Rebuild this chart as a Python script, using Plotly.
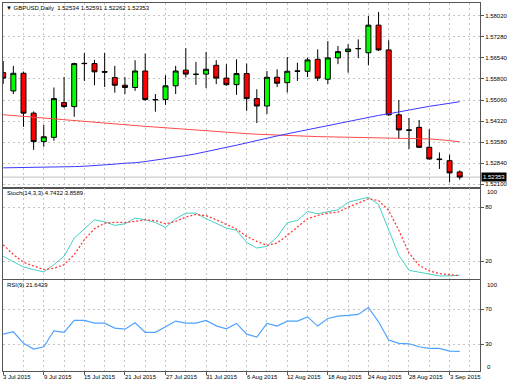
import plotly.graph_objects as go
import pandas as pd

# ---------------- data ----------------
dates = [f"{d.day} {d.strftime('%b %Y')}" for d in pd.bdate_range("2015-07-03", "2015-09-04")]

opens = [1.5602, 1.5538, 1.5600, 1.5460, 1.5360, 1.5375, 1.5497, 1.5483, 1.5635, 1.5634,
         1.5606, 1.5585, 1.5558, 1.5550, 1.5608, 1.5508, 1.5508, 1.5556, 1.5611, 1.5597,
         1.5597, 1.5628, 1.5583, 1.5560, 1.5599, 1.5511, 1.5485, 1.5586, 1.5567, 1.5607,
         1.5607, 1.5649, 1.5579, 1.5654, 1.5676, 1.5686, 1.5672, 1.5769, 1.5682, 1.5454,
         1.5401, 1.5410, 1.5340, 1.5299, 1.5293, 1.52534]
highs = [1.5643, 1.5626, 1.5606, 1.5466, 1.5419, 1.5550, 1.5587, 1.5637, 1.5672, 1.5647,
         1.5672, 1.5626, 1.5587, 1.5646, 1.5669, 1.5527, 1.5593, 1.5626, 1.5688, 1.5640,
         1.5675, 1.5646, 1.5632, 1.5649, 1.5634, 1.5544, 1.5608, 1.5614, 1.5657, 1.5637,
         1.5655, 1.5684, 1.5713, 1.5696, 1.5702, 1.5719, 1.5801, 1.5815, 1.5716, 1.5506,
         1.5443, 1.5436, 1.5404, 1.5322, 1.5314, 1.52591]
lows = [1.5563, 1.5527, 1.5412, 1.5331, 1.5342, 1.5363, 1.5478, 1.5447, 1.5573, 1.5558,
        1.5552, 1.5532, 1.5527, 1.5538, 1.5503, 1.5465, 1.5489, 1.5527, 1.5585, 1.5559,
        1.5548, 1.5562, 1.5556, 1.5524, 1.5468, 1.5425, 1.5457, 1.5552, 1.5532, 1.5573,
        1.5587, 1.5573, 1.5562, 1.5632, 1.5602, 1.5653, 1.5628, 1.5678, 1.5451, 1.5369,
        1.5334, 1.5338, 1.5297, 1.5264, 1.5217, 1.52262]
closes = [1.5583, 1.5600, 1.5460, 1.5360, 1.5377, 1.5511, 1.5483, 1.5634, 1.5634, 1.5605,
          1.5604, 1.5558, 1.5550, 1.5608, 1.5508, 1.5507, 1.5556, 1.5608, 1.5597, 1.5596,
          1.5614, 1.5583, 1.5560, 1.5599, 1.5511, 1.5485, 1.5586, 1.5565, 1.5607, 1.5608,
          1.5647, 1.5583, 1.5654, 1.5676, 1.5685, 1.5687, 1.5769, 1.5682, 1.5454, 1.5401,
          1.5400, 1.5340, 1.5299, 1.5297, 1.5250, 1.52353]

ma_red = [1.54545, 1.54514, 1.54482, 1.54451, 1.54419, 1.54388, 1.54356, 1.54325, 1.54297, 1.54269,
          1.54241, 1.54216, 1.54192, 1.54164, 1.54136, 1.54108, 1.54080, 1.54052, 1.54024, 1.53995,
          1.53971, 1.53946, 1.53922, 1.53901, 1.53880, 1.53859, 1.53841, 1.53824, 1.53810, 1.53796,
          1.53785, 1.53775, 1.53768, 1.53761, 1.53754, 1.53750, 1.53747, 1.53745, 1.53743, 1.53736,
          1.53726, 1.53712, 1.53694, 1.53670, 1.53635, 1.53593]
ma_blue = [1.52679, 1.52682, 1.52686, 1.52689, 1.52696, 1.52703, 1.52710, 1.52721, 1.52735, 1.52752,
           1.52777, 1.52808, 1.52843, 1.52857, 1.52899, 1.52945, 1.52994, 1.53050, 1.53109, 1.53172,
           1.53242, 1.53313, 1.53390, 1.53474, 1.53554, 1.53642, 1.53722, 1.53799, 1.53873, 1.53946,
           1.54020, 1.54090, 1.54160, 1.54237, 1.54314, 1.54395, 1.54461, 1.54521, 1.54577, 1.54647,
           1.54724, 1.54784, 1.54840, 1.54892, 1.54948, 1.55001]

stoch_k = [25.5, 20.0, 13.7, 10.8, 8.2, 16.3, 25.5, 45.8, 55.7, 66.0,
           63.8, 59.8, 61.6, 67.9, 66.0, 63.0, 57.6, 67.2, 73.4, 73.4,
           67.2, 61.6, 56.8, 54.3, 41.0, 34.7, 36.6, 46.9, 62.7, 65.3,
           75.2, 72.7, 75.2, 77.1, 85.5, 88.5, 91.0, 83.0, 54.3, 26.6,
           10.0, 8.2, 6.4, 3.8, 3.8, 4.7432]
stoch_d = [38.4, 27.4, 18.9, 14.5, 10.8, 12.3, 16.3, 27.4, 44.0, 56.1,
           62.3, 63.1, 63.1, 64.2, 66.0, 65.0, 61.6, 64.2, 69.0, 71.9,
           70.5, 66.0, 60.6, 55.7, 47.6, 42.1, 37.7, 40.2, 48.7, 57.9,
           67.2, 70.8, 73.4, 74.5, 80.0, 84.4, 89.3, 87.4, 76.4, 54.3,
           29.2, 15.6, 9.3, 6.4, 4.9, 3.8589]
rsi = [41.4, 44.1, 30.8, 24.3, 26.9, 45.2, 43.4, 57.1, 57.1, 54.0,
       54.0, 48.3, 47.1, 54.3, 43.4, 43.4, 49.8, 56.3, 54.0, 54.0,
       57.1, 50.9, 47.5, 53.6, 41.4, 38.0, 53.6, 50.6, 56.3, 56.3,
       61.2, 50.6, 59.3, 62.0, 62.8, 63.9, 71.9, 55.5, 34.6, 30.8,
       30.3, 26.9, 25.0, 25.0, 22.0, 21.6429]

price_ticks = [1.52100, 1.52840, 1.53580, 1.54320, 1.55060, 1.55800, 1.56540, 1.57280, 1.58020]
stoch_ticks = [20, 80]
rsi_ticks = [30, 70]

title_text = "▼ GBPUSD,Daily  1.52534 1.52591 1.52262 1.52353"
stoch_text = "Stoch(14,3,3) 4.7432 3.8589"
rsi_text = "RSI(9) 21.6429"

# ---------------- style ----------------
FONT = "Liberation Sans"
FS = 6
GRID = "#c4c4c4"
FRAME = "#555555"
x = list(range(len(dates)))
label_idx = list(range(0, len(dates), 4))
minor_idx = list(range(2, len(dates) + 2, 4))

fig = go.Figure()
fig.add_trace(go.Candlestick(
    x=x, open=opens, high=highs, low=lows, close=closes,
    increasing=dict(line=dict(color="black", width=1), fillcolor="#00FF00"),
    decreasing=dict(line=dict(color="black", width=1), fillcolor="#FF0000"),
    xaxis="x", yaxis="y", showlegend=False))
fig.add_trace(go.Scatter(x=x, y=ma_red, mode="lines", line=dict(color="#FF4A4A", width=1),
                         xaxis="x", yaxis="y", showlegend=False))
fig.add_trace(go.Scatter(x=x, y=ma_blue, mode="lines", line=dict(color="#3A3AFF", width=1),
                         xaxis="x", yaxis="y", showlegend=False))
fig.add_trace(go.Scatter(x=x, y=stoch_k, mode="lines", line=dict(color="#45CFC4", width=1),
                         xaxis="x2", yaxis="y2", showlegend=False))
fig.add_trace(go.Scatter(x=x, y=stoch_d, mode="lines", line=dict(color="#FF3A3A", width=1.3, dash="2px,2px"),
                         xaxis="x2", yaxis="y2", showlegend=False))
fig.add_trace(go.Scatter(x=x, y=rsi, mode="lines", line=dict(color="#4DA3FF", width=1.2),
                         xaxis="x3", yaxis="y3", showlegend=False))

xcommon = dict(range=[-0.02, 47.0], tickmode="array", tickvals=label_idx,
               showgrid=True, gridcolor=GRID, griddash="2px,3px", gridwidth=1,
               minor=dict(tickvals=minor_idx, showgrid=True, gridcolor=GRID, griddash="2px,3px", ticks=""),
               showline=True, mirror=True, linecolor=FRAME, linewidth=1, zeroline=False,
               showticklabels=False, fixedrange=True)
ycommon = dict(side="right", tickmode="array", showgrid=True, gridcolor=GRID, griddash="2px,3px",
               showline=True, mirror=True, linecolor=FRAME, linewidth=1, zeroline=False,
               ticks="outside", ticklen=3, tickcolor=FRAME,
               tickfont=dict(family=FONT, size=FS, color="black"))

annotations = [
    dict(text=title_text, xref="paper", yref="paper", x=0, y=1, xanchor="left", yanchor="top",
         xshift=1, yshift=0, showarrow=False, font=dict(family=FONT, size=FS, color="black")),
    dict(text=stoch_text, xref="paper", yref="y2 domain", x=0, y=1, xanchor="left", yanchor="top",
         xshift=2, yshift=0, showarrow=False, font=dict(family=FONT, size=FS, color="black")),
    dict(text=rsi_text, xref="paper", yref="y3 domain", x=0, y=1, xanchor="left", yanchor="top",
         xshift=2, yshift=0, showarrow=False, font=dict(family=FONT, size=FS, color="black")),
    dict(text=f"{closes[-1]:.5f}", xref="paper", yref="y", x=1, y=closes[-1], xanchor="left",
         yanchor="middle", xshift=1, showarrow=False, bgcolor="black", borderpad=1,
         font=dict(family=FONT, size=FS, color="white")),
]
for txt, ax, val, ys in [("100", "y2", 100, -3), ("0", "y2", 0, 4), ("100", "y3", 100, -2), ("0", "y3", 0, 3)]:
    annotations.append(dict(text=txt, xref="paper", yref=ax, x=1, y=val, xanchor="left", yanchor="middle",
                            xshift=5, yshift=ys, showarrow=False,
                            font=dict(family=FONT, size=FS, color="black")))
for i in label_idx:
    annotations.append(dict(text=dates[i], xref="x3", yref="paper", x=i, y=0, xanchor="left", yanchor="top",
                            xshift=-2, yshift=-1, showarrow=False,
                            font=dict(family=FONT, size=FS, color="black")))

fig.update_layout(
    width=510, height=383, autosize=False,
    margin=dict(l=2, r=28, t=2, b=12),
    paper_bgcolor="white", plot_bgcolor="white",
    showlegend=False, hovermode=False,
    font=dict(family=FONT, size=FS, color="black"),
    xaxis=dict(**xcommon, anchor="y", domain=[0, 1], ticks="", rangeslider=dict(visible=False)),
    xaxis2=dict(**xcommon, anchor="y2", domain=[0, 1], matches="x", ticks=""),
    xaxis3=dict(**xcommon, anchor="y3", domain=[0, 1], matches="x", ticks="outside", ticklen=3, tickcolor=FRAME),
    yaxis=dict(**ycommon, anchor="x", domain=[0.49864, 1], range=[1.51988, 1.58468],
               tickvals=price_ticks, ticktext=[f"{v:.5f}" for v in price_ticks]),
    yaxis2=dict(**ycommon, anchor="x2", domain=[0.24932, 0.49593], range=[0.1, 100.7],
                tickvals=stoch_ticks, ticktext=[str(v) for v in stoch_ticks]),
    yaxis3=dict(**ycommon, anchor="x3", domain=[0, 0.24661], range=[-0.86, 103.1],
                tickvals=rsi_ticks, ticktext=[str(v) for v in rsi_ticks]),
    annotations=annotations,
    shapes=[dict(type="line", xref="x domain", yref="y", x0=0, x1=1, y0=closes[-1], y1=closes[-1],
                 line=dict(color="#c0c0c0", width=1), layer="below")],
)

fig.write_html("out.html", config=dict(displayModeBar=False),
               post_script="document.body.style.margin='0';document.body.style.overflow='hidden';")
